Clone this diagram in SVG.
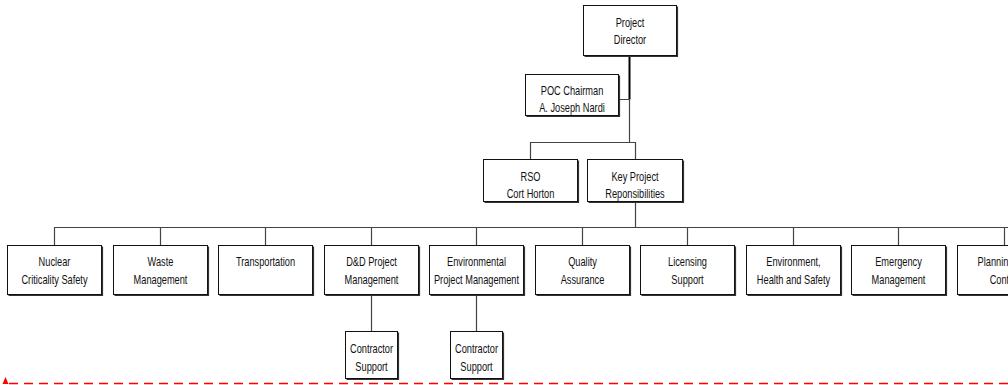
<svg xmlns="http://www.w3.org/2000/svg" width="1008" height="385" viewBox="0 0 1008 385">
  <style>
    .box { fill: #fff; stroke: #111; stroke-width: 1; }
    .shadow { fill: none; stroke: #333; stroke-width: 1.2; }
    .t { font-family: "Liberation Sans", Arial, sans-serif; font-size: 12px; fill: #111; text-anchor: middle; }
    .link { fill: none; stroke: #444; stroke-width: 1.2; }
    .link-strong { fill: none; stroke: #000; stroke-width: 2; }
    .boundary { fill: none; stroke: #ff0000; stroke-width: 1.6; stroke-dasharray: 9 6; }
  </style>

  <!-- reporting lines -->
  <g id="connectors">
    <path class="link-strong" d="M629.5 55 V99.5"/>
    <path class="link" d="M619 99.5 H629.5 M629.5 99.5 V142.5"/>
    <path class="link" d="M530.5 159 V142.5 H635.5 V159"/>
    <path class="link" d="M635.5 201 V227.5"/>
    <path class="link" d="M54.5 245 V227.5 H1008"/>
    <path class="link" d="M160.5 227.5 V245 M265.5 227.5 V245 M371.5 227.5 V245 M476.5 227.5 V245 M582.5 227.5 V245 M687.5 227.5 V245 M793.5 227.5 V245 M898.5 227.5 V245 M1004.5 227.5 V245"/>
    <path class="link" d="M371.5 295 V331 M476.5 295 V331"/>
    <path class="boundary" d="M9 383.5 H1008"/>
    <polygon points="5.5,377 2.5,384 8.5,384" fill="#ff0000"/>
  </g>

  <g id="project-director">
    <rect class="box" x="583.5" y="5.5" width="93" height="50"/>
    <path class="shadow" d="M677.5 6.5 V56.5 H584.5"/>
    <text class="t" transform="translate(630 27) scale(0.77 1)">Project</text>
    <text class="t" transform="translate(630 44) scale(0.77 1)">Director</text>
  </g>

  <g id="poc-chairman">
    <rect class="box" x="525.5" y="74.5" width="93" height="41"/>
    <path class="shadow" d="M619.5 75.5 V116.5 H526.5"/>
    <text class="t" transform="translate(572 95) scale(0.77 1)">POC Chairman</text>
    <text class="t" transform="translate(572 112) scale(0.77 1)">A. Joseph Nardi</text>
  </g>

  <g id="rso">
    <rect class="box" x="483.5" y="159.5" width="94" height="42"/>
    <path class="shadow" d="M578.5 160.5 V202.5 H484.5"/>
    <text class="t" transform="translate(530.5 181) scale(0.77 1)">RSO</text>
    <text class="t" transform="translate(530.5 198) scale(0.77 1)">Cort Horton</text>
  </g>

  <g id="key-project">
    <rect class="box" x="587.5" y="159.5" width="95" height="42"/>
    <path class="shadow" d="M683.5 160.5 V202.5 H588.5"/>
    <text class="t" transform="translate(635 181) scale(0.77 1)">Key Project</text>
    <text class="t" transform="translate(635 198) scale(0.77 1)">Reponsibilities</text>
  </g>

  <g id="nuclear-criticality-safety">
    <rect class="box" x="7.5" y="245.5" width="94" height="49"/>
    <path class="shadow" d="M102.5 246.5 V295.5 H8.5"/>
    <text class="t" transform="translate(54.5 266) scale(0.77 1)">Nuclear</text>
    <text class="t" transform="translate(54.5 284) scale(0.77 1)">Criticality Safety</text>
  </g>

  <g id="waste-management">
    <rect class="box" x="113.5" y="245.5" width="94" height="49"/>
    <path class="shadow" d="M208.5 246.5 V295.5 H114.5"/>
    <text class="t" transform="translate(160.5 266) scale(0.77 1)">Waste</text>
    <text class="t" transform="translate(160.5 284) scale(0.77 1)">Management</text>
  </g>

  <g id="transportation">
    <rect class="box" x="218.5" y="245.5" width="94" height="49"/>
    <path class="shadow" d="M313.5 246.5 V295.5 H219.5"/>
    <text class="t" transform="translate(265.5 266) scale(0.77 1)">Transportation</text>
  </g>

  <g id="dd-project-management">
    <rect class="box" x="324.5" y="245.5" width="94" height="49"/>
    <path class="shadow" d="M419.5 246.5 V295.5 H325.5"/>
    <text class="t" transform="translate(371.5 266) scale(0.77 1)">D&amp;D Project</text>
    <text class="t" transform="translate(371.5 284) scale(0.77 1)">Management</text>
  </g>

  <g id="environmental-project-management">
    <rect class="box" x="429.5" y="245.5" width="94" height="49"/>
    <path class="shadow" d="M524.5 246.5 V295.5 H430.5"/>
    <text class="t" transform="translate(476.5 266) scale(0.77 1)">Environmental</text>
    <text class="t" transform="translate(476.5 284) scale(0.77 1)">Project Management</text>
  </g>

  <g id="quality-assurance">
    <rect class="box" x="535.5" y="245.5" width="94" height="49"/>
    <path class="shadow" d="M630.5 246.5 V295.5 H536.5"/>
    <text class="t" transform="translate(582.5 266) scale(0.77 1)">Quality</text>
    <text class="t" transform="translate(582.5 284) scale(0.77 1)">Assurance</text>
  </g>

  <g id="licensing-support">
    <rect class="box" x="640.5" y="245.5" width="94" height="49"/>
    <path class="shadow" d="M735.5 246.5 V295.5 H641.5"/>
    <text class="t" transform="translate(687.5 266) scale(0.77 1)">Licensing</text>
    <text class="t" transform="translate(687.5 284) scale(0.77 1)">Support</text>
  </g>

  <g id="environment-health-safety">
    <rect class="box" x="746.5" y="245.5" width="94" height="49"/>
    <path class="shadow" d="M841.5 246.5 V295.5 H747.5"/>
    <text class="t" transform="translate(793.5 266) scale(0.77 1)">Environment,</text>
    <text class="t" transform="translate(793.5 284) scale(0.77 1)">Health and Safety</text>
  </g>

  <g id="emergency-management">
    <rect class="box" x="851.5" y="245.5" width="94" height="49"/>
    <path class="shadow" d="M946.5 246.5 V295.5 H852.5"/>
    <text class="t" transform="translate(898.5 266) scale(0.77 1)">Emergency</text>
    <text class="t" transform="translate(898.5 284) scale(0.77 1)">Management</text>
  </g>

  <g id="planning-control">
    <rect class="box" x="957.5" y="245.5" width="94" height="49"/>
    <path class="shadow" d="M1052.5 246.5 V295.5 H958.5"/>
    <text class="t" transform="translate(1004.5 266) scale(0.77 1)">Planning and</text>
    <text class="t" transform="translate(1004.5 284) scale(0.77 1)">Control</text>
  </g>

  <g id="contractor-support-dd">
    <rect class="box" x="345.5" y="331.5" width="52" height="47"/>
    <path class="shadow" d="M398.5 332.5 V379.5 H346.5"/>
    <text class="t" transform="translate(371.5 353) scale(0.77 1)">Contractor</text>
    <text class="t" transform="translate(371.5 371) scale(0.77 1)">Support</text>
  </g>

  <g id="contractor-support-env">
    <rect class="box" x="450.5" y="331.5" width="52" height="47"/>
    <path class="shadow" d="M503.5 332.5 V379.5 H451.5"/>
    <text class="t" transform="translate(476.5 353) scale(0.77 1)">Contractor</text>
    <text class="t" transform="translate(476.5 371) scale(0.77 1)">Support</text>
  </g>
</svg>
